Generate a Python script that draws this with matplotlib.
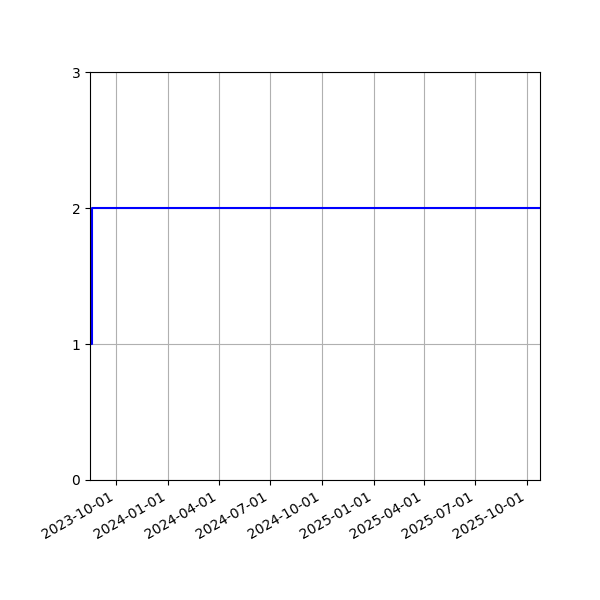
import matplotlib
matplotlib.use('Agg')
import matplotlib.pyplot as plt
import matplotlib.dates as mdates
import numpy as np

# step series: starts at 1, jumps to 2 almost right away
dates = np.array(['2023-08-16', '2023-08-19', '2025-10-24'], dtype='datetime64[D]')
values = [1, 2, 2]

fig, ax = plt.subplots(figsize=(6, 6), dpi=100)
ax.plot(dates, values, drawstyle='steps-post', c='blue', lw=1.5)

ax.set_xlim(dates[0], dates[-1])
ax.set_ylim(0, 3)
ax.set_yticks([0, 1, 2, 3])
ax.xaxis.set_major_locator(mdates.MonthLocator(bymonth=[1, 4, 7, 10]))
ax.xaxis.set_major_formatter(mdates.DateFormatter('%Y-%m-%d'))
ax.grid(True)

fig.autofmt_xdate()
fig.subplots_adjust(left=0.15, right=0.9, top=0.88, bottom=0.2)
fig.savefig('out.png')
